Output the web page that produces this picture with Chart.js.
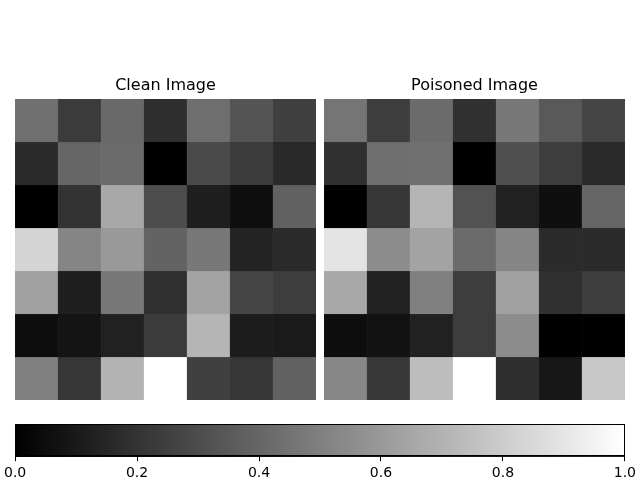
<!DOCTYPE html>
<html lang="en">
<head>
    <meta charset="UTF-8">
    <title>Clean vs Poisoned Image</title>
    <script src="https://cdn.jsdelivr.net/npm/chart.js"></script>
    <style>
        body {
            margin: 0;
            background: #ffffff;
            width: 640px;
            height: 480px;
            position: relative;
            overflow: hidden;
        }
        canvas {
            position: absolute;
        }
        #cleanChart { left: 15px; top: 70px; }
        #poisonChart { left: 324px; top: 70px; }
        #barChart { left: 0px; top: 415px; }
    </style>
</head>
<body>
    <canvas id="cleanChart" width="301" height="330"></canvas>
    <canvas id="poisonChart" width="301" height="330"></canvas>
    <canvas id="barChart" width="640" height="73"></canvas>

    <script>
        // pixel grids, 7 rows x 7 columns, values on the 0..1 gray scale
        const columns = ['0', '1', '2', '3', '4', '5', '6'];
        const cleanRows = [
            [0.44, 0.23, 0.41, 0.18, 0.43, 0.33, 0.25],
            [0.17, 0.40, 0.42, 0.00, 0.29, 0.23, 0.16],
            [0.00, 0.20, 0.66, 0.30, 0.12, 0.06, 0.38],
            [0.83, 0.52, 0.60, 0.39, 0.47, 0.14, 0.17],
            [0.63, 0.12, 0.47, 0.19, 0.64, 0.27, 0.24],
            [0.05, 0.08, 0.13, 0.23, 0.71, 0.11, 0.10],
            [0.50, 0.21, 0.70, 1.00, 0.25, 0.21, 0.38]
        ];
        const poisonedRows = [
            [0.46, 0.24, 0.42, 0.19, 0.47, 0.35, 0.27],
            [0.19, 0.43, 0.44, 0.00, 0.31, 0.24, 0.17],
            [0.00, 0.21, 0.71, 0.32, 0.13, 0.06, 0.40],
            [0.89, 0.55, 0.64, 0.42, 0.52, 0.17, 0.17],
            [0.66, 0.13, 0.50, 0.24, 0.63, 0.19, 0.24],
            [0.05, 0.07, 0.13, 0.24, 0.55, 0.00, 0.00],
            [0.53, 0.22, 0.74, 1.00, 0.18, 0.09, 0.78]
        ];
        const colorbarTicks = [0.0, 0.2, 0.4, 0.6, 0.8, 1.0];

        const fontFamily = '"DejaVu Sans", sans-serif';

        function gray(v) {
            const g = Math.round(v * 255);
            return 'rgb(' + g + ',' + g + ',' + g + ')';
        }

        // one floating bar per pixel: row r spans [r, r+1] on the reversed y axis
        function heatmap(id, title, rows) {
            const datasets = rows.map((row, r) => ({
                data: row.map(() => [r, r + 1]),
                backgroundColor: row.map(gray),
                borderColor: row.map(gray),
                borderWidth: 0.6,
                borderSkipped: false,
                barPercentage: 1,
                categoryPercentage: 1
            }));
            new Chart(document.getElementById(id), {
                type: 'bar',
                data: { labels: columns, datasets: datasets },
                options: {
                    responsive: false,
                    animation: false,
                    layout: { padding: 0 },
                    plugins: {
                        legend: { display: false },
                        tooltip: { enabled: false },
                        title: {
                            display: true,
                            text: title,
                            color: '#000',
                            font: { family: fontFamily, size: 16, weight: 'normal' },
                            padding: { top: 6.5, bottom: 3.3 }
                        }
                    },
                    scales: {
                        x: { display: false, stacked: true },
                        y: { display: false, min: 0, max: 7, reverse: true }
                    }
                }
            });
        }

        heatmap('cleanChart', 'Clean Image', cleanRows);
        heatmap('poisonChart', 'Poisoned Image', poisonedRows);

        // colorbar: one bar spanning 0..1 filled with a black-to-white gradient
        const frame = {
            id: 'frame',
            afterDatasetsDraw(chart) {
                const a = chart.chartArea;
                const ctx = chart.ctx;
                ctx.save();
                ctx.strokeStyle = '#000';
                ctx.lineWidth = 1;
                ctx.strokeRect(Math.round(a.left) + 0.5, Math.round(a.top) + 0.5,
                    Math.round(a.right - a.left) - 1, Math.round(a.bottom - a.top) - 1);
                ctx.restore();
            }
        };

        new Chart(document.getElementById('barChart'), {
            type: 'bar',
            data: {
                labels: ['cb'],
                datasets: [{
                    data: [[colorbarTicks[0], colorbarTicks[colorbarTicks.length - 1]]],
                    backgroundColor(context) {
                        const a = context.chart.chartArea;
                        if (!a) return '#888';
                        const grad = context.chart.ctx.createLinearGradient(a.left, 0, a.right, 0);
                        grad.addColorStop(0, '#000');
                        grad.addColorStop(1, '#fff');
                        return grad;
                    },
                    borderWidth: 0,
                    barPercentage: 1,
                    categoryPercentage: 1
                }]
            },
            options: {
                indexAxis: 'y',
                responsive: false,
                animation: false,
                layout: { padding: { top: 9, left: 15, right: 15, bottom: 2 } },
                plugins: {
                    legend: { display: false },
                    tooltip: { enabled: false }
                },
                scales: {
                    y: { display: false },
                    x: {
                        type: 'linear',
                        min: 0,
                        max: 1,
                        afterBuildTicks(scale) {
                            scale.ticks = colorbarTicks.map(v => ({ value: v }));
                        },
                        grid: {
                            drawOnChartArea: false,
                            drawTicks: true,
                            tickLength: 5,
                            color: '#000'
                        },
                        border: { display: true, color: '#000' },
                        ticks: {
                            color: '#000',
                            padding: 4,
                            maxRotation: 0,
                            font: { family: fontFamily, size: 14 },
                            callback: v => Number(v).toFixed(1)
                        }
                    }
                }
            },
            plugins: [frame]
        });
    </script>
</body>
</html>
